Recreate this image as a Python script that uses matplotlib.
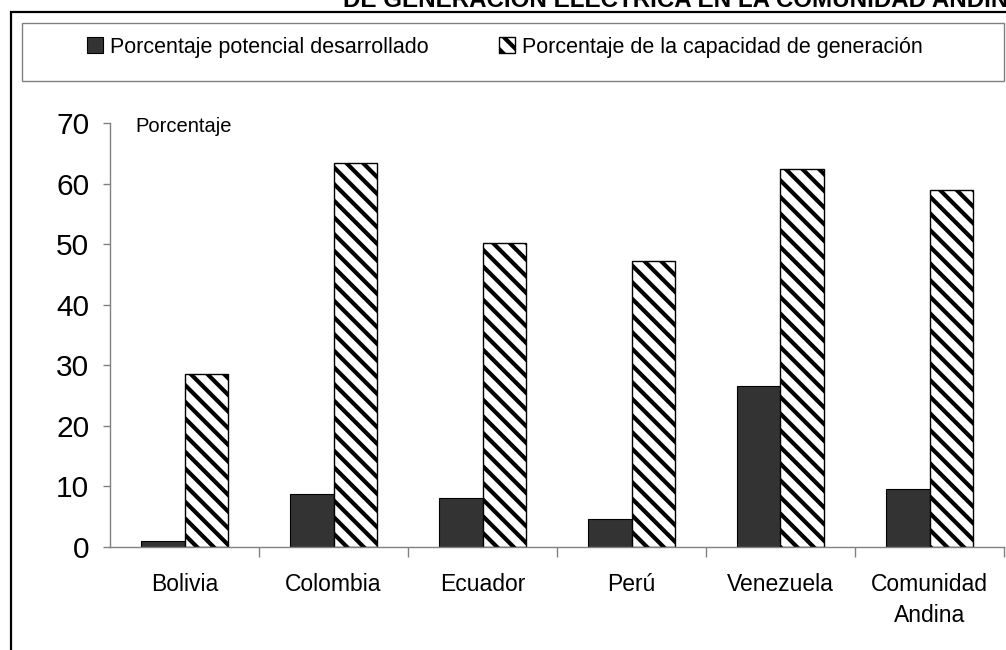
import matplotlib
matplotlib.use("Agg")
import matplotlib.pyplot as plt
from matplotlib.patches import Rectangle
import numpy as np

paises = ["Bolivia", "Colombia", "Ecuador", "Perú", "Venezuela", "Comunidad\nAndina"]
potencial_desarrollado = [1.0, 8.7, 8.1, 4.7, 26.6, 9.6]
capacidad_generacion = [28.6, 63.4, 50.2, 47.2, 62.4, 59.0]
yticks = [0, 10, 20, 30, 40, 50, 60, 70]

plt.rcParams['font.family'] = ['Liberation Sans', 'DejaVu Sans']
plt.rcParams['hatch.linewidth'] = 3.0
plt.rcParams['hatch.color'] = 'black'

W, H = 1006, 650
fig = plt.figure(figsize=(W / 100, H / 100), dpi=100)

def px(x, y):
    # pixel position (from top-left) -> figure fraction
    return x / W, 1 - y / H

# outer frame and legend box
fig.patches.append(Rectangle(px(11, 700), (W + 20) / W, (700 - 12) / H,
                             transform=fig.transFigure, fill=False,
                             edgecolor='black', linewidth=1.6))
fig.patches.append(Rectangle(px(22, 81), (1004 - 22) / W, (81 - 23) / H,
                             transform=fig.transFigure, fill=False,
                             edgecolor='#808080', linewidth=1.0))

fig.text(*px(343, 7), "DE GENERACIÓN ELÉCTRICA EN LA COMUNIDAD ANDINA",
         fontsize=17.4, fontweight='bold', ha='left', va='baseline')

l, b = px(110, 547)
r, t = px(1004, 123)
ax = fig.add_axes([l, b, r - l, t - b])

x = np.arange(len(paises))
ancho = 0.29
b1 = ax.bar(x - ancho / 2, potencial_desarrollado, ancho, color='#333333',
            edgecolor='black', linewidth=0.8, label='Porcentaje potencial desarrollado')
b2 = ax.bar(x + ancho / 2, capacidad_generacion, ancho, color='white',
            edgecolor='black', linewidth=1.0, hatch='\\\\',
            label='Porcentaje de la capacidad de generación')

ax.set_xlim(-0.5, len(paises) - 0.5)
ax.set_ylim(0, 70)
ax.set_yticks(yticks)
ax.set_xticks(x)
ax.set_xticklabels(paises, fontsize=16.5, linespacing=1.45)
ax.set_xticks(np.arange(len(paises)) + 0.5, minor=True)
ax.tick_params(axis='x', which='major', length=0, pad=19)
ax.tick_params(axis='x', which='minor', length=7, color='#808080', width=1)
ax.tick_params(axis='y', labelsize=21.5, length=5, color='#808080', width=1, pad=10)

for s in ['top', 'right']:
    ax.spines[s].set_visible(False)
for s in ['left', 'bottom']:
    ax.spines[s].set_color('#808080')
    ax.spines[s].set_linewidth(1.0)

fig.text(*px(135, 126), "Porcentaje", fontsize=14.5, ha='left', va='center')

fig.legend(handles=[b1, b2], loc='center left', bbox_to_anchor=px(87, 47),
           ncol=2, frameon=False, fontsize=15.5, handlelength=0.75,
           handleheight=0.75, handletextpad=0.3, columnspacing=3.3,
           borderpad=0, borderaxespad=0)

fig.savefig("out.png", dpi=100)
